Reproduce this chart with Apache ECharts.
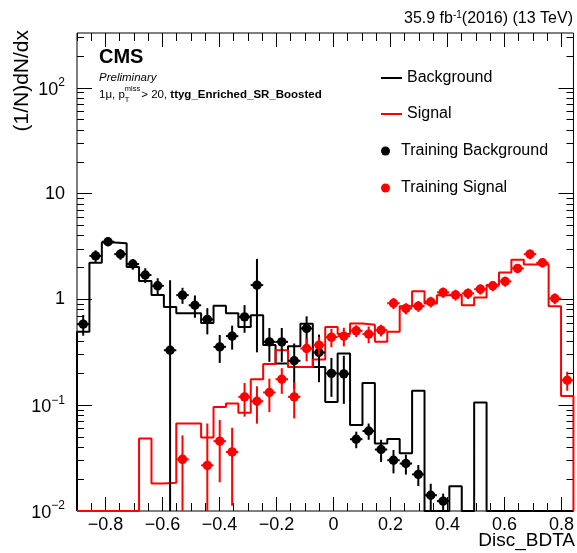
<!DOCTYPE html>
<html>
<head>
<meta charset="utf-8" />
<title>Disc_BDTA</title>
<script src="https://cdn.jsdelivr.net/npm/echarts@6/dist/echarts.min.js"></script>
<style>
  html, body { margin: 0; padding: 0; background: #fff; }
  #main { width: 577px; height: 553px; }
</style>
</head>
<body>
<div id="main"></div>
<script>
// histogram range
const xMin = -0.9, xMax = 0.842, nBins = 40;
const yMin = 0.01, yMax = 330;

// normalised histograms, one value per bin (0 = empty)
const bkgHist = [0.494, 2.22, 3.46, 3.40, 2.03, 1.49, 1.10, 0.85, 0.74, 0.74,
                 0.60, 0.87, 0.74, 0.55, 0.71, 0.37, 0.248, 0.36, 0.59, 0.23,
                 0.107, 0.308, 0.065, 0.162, 0.0434, 0.048, 0.0352, 0.137, 0, 0,
                 0.0171, 0, 0.106, 0, 0, 0, 0, 0, 0, 0];
const sigHist = [0, 0, 0, 0, 0, 0.0484, 0.0182, 0.0185, 0.067, 0.067,
                 0.0495, 0.096, 0.104, 0.085, 0.176, 0.245, 0.331, 0.23, 0.23, 0.27,
                 0.55, 0.47, 0.593, 0.575, 0.397, 0.494, 0.864, 1.198, 0.917, 1.098,
                 1.098, 0.88, 1.04, 1.366, 1.80, 2.37, 2.14, 2.14, 0.864, 0.1225];

// training samples: value and error per bin (null = no point)
const bkgTrain = [0.584, 2.58, 3.51, 2.68, 2.16, 1.70, 1.345, 0.331, 1.098, 0.88,
                  0.647, 0.356, 0.45, 0.684, 1.366, 0.397, 0.397, 0.263, 0.532, 0.315,
                  0.2, 0.198, 0.0477, 0.0571, 0.0381, 0.0302, 0.0281, 0.0222, 0.0141, 0.0124,
                  null, null, null, null, null, null, null, null, null, null];
const bkgTrainErr = [0.13, 0.33, 0.32, 0.31, 0.25, 0.27, 0.24, 1.19, 0.19, 0.21,
                     0.18, 0.105, 0.115, 0.2, 1.05, 0.14, 0.14, 0.12, 0.16, 0.15,
                     0.08, 0.095, 0.0085, 0.01, 0.009, 0.0075, 0.006, 0.005, 0.004, 0.0022,
                     null, null, null, null, null, null, null, null, null, null];
const sigTrain = [null, null, null, null, null, null, null, null, 0.0308, null,
                  0.027, 0.0457, 0.0362, 0.12, 0.109, 0.132, 0.176, 0.12, 0.344, 0.37,
                  0.44, 0.45, 0.505, 0.47, 0.512, 0.92, 0.822, 0.864, 0.949, 1.165,
                  1.105, 1.14, 1.25, 1.345, 1.48, 1.965, 2.68, 2.22, 1.02, 0.172];
const sigTrainErr = [null, null, null, null, null, null, null, null, 0.021, null,
                     0.04, 0.027, 0.025, 0.042, 0.042, 0.046, 0.048, 0.045, 0.084, 0.07,
                     0.087, 0.09, 0.065, 0.085, 0.065, 0.11, 0.1, 0.1, 0.11, 0.13,
                     0.13, 0.13, 0.14, 0.15, 0.16, 0.2, 0.28, 0.22, 0.12, 0.035];

const xLabels = [-0.8, -0.6, -0.4, -0.2, 0, 0.2, 0.4, 0.6, 0.8];
const yLabels = [0.01, 0.1, 1, 10, 100];

const FONT = '"Liberation Sans", Arial, Helvetica, sans-serif';
const binW = (xMax - xMin) / nBins;
const binEdges = [];
for (let i = 0; i <= nBins; i++) binEdges.push(xMin + i * binW);

// minor tick positions
const xMinor = [];
for (let k = -18; k <= 16; k++) xMinor.push(+(k * 0.05).toFixed(2));
const yMinor = [];
for (let e = -2; e <= 2; e++) {
  for (let m = 2; m <= 9; m++) {
    const v = +(m * Math.pow(10, e)).toPrecision(3);
    if (v < yMax) yMinor.push(v);
  }
}

function stepData(vals) {
  const pts = [[binEdges[0], yMin]];
  vals.forEach(function (v, i) {
    const y = v > yMin ? v : yMin;
    pts.push([binEdges[i], y], [binEdges[i + 1], y]);
  });
  pts.push([binEdges[nBins], yMin]);
  return pts;
}

function pointData(vals, errs) {
  const out = [];
  vals.forEach(function (v, i) {
    if (v == null) return;
    out.push([(binEdges[i] + binEdges[i + 1]) / 2, v, errs[i]]);
  });
  return out;
}

function errorBars(color) {
  return function (params, api) {
    const x = api.value(0), y = api.value(1), e = api.value(2);
    const p = api.coord([x, y]);
    const pl = api.coord([x - binW / 2, y]);
    const pr = api.coord([x + binW / 2, y]);
    const pt = api.coord([x, y + e]);
    const pb = api.coord([x, y - e > 0 ? y - e : yMin / 100]);
    const st = { stroke: color, lineWidth: 2 };
    return {
      type: 'group',
      children: [
        { type: 'line', shape: { x1: pl[0], y1: p[1], x2: pr[0], y2: p[1] }, style: st },
        { type: 'line', shape: { x1: p[0], y1: pt[1], x2: p[0], y2: pb[1] }, style: st },
        { type: 'circle', shape: { cx: p[0], cy: p[1], r: 4.7 }, style: { fill: color } }
      ]
    };
  };
}

function fmtX(v) {
  return (v < 0 ? '\u2212' : '') + Math.abs(v);
}
function fmtY(v) {
  const e = Math.round(Math.log10(v));
  if (e === 0) return '1';
  if (e === 1) return '10';
  return '{b|10}{s|' + (e < 0 ? '\u2212' : '') + Math.abs(e) + '}';
}

function xAxisOf(pos, ticks, len, labels) {
  return {
    type: 'value', position: pos, min: xMin, max: xMax,
    axisLine: { show: false, onZero: false }, splitLine: { show: false },
    axisTick: { show: true, inside: true, length: len, customValues: ticks,
                lineStyle: { color: '#000', width: 1 } },
    axisLabel: labels ? { show: true, customValues: ticks, formatter: fmtX, color: '#000',
                          fontSize: 18, fontFamily: FONT, margin: 5 } : { show: false }
  };
}
function yAxisOf(pos, ticks, len, labels) {
  return {
    type: 'log', logBase: 10, position: pos, min: yMin, max: yMax,
    axisLine: { show: false, onZero: false }, splitLine: { show: false }, minorTick: { show: false },
    axisTick: { show: true, inside: true, length: len, customValues: ticks,
                lineStyle: { color: '#000', width: 1 } },
    axisLabel: labels ? {
      show: true, customValues: ticks, formatter: fmtY, color: '#000',
      fontSize: 18, fontFamily: FONT, margin: 12,
      rich: {
        b: { fontSize: 18, fontFamily: FONT, color: '#000', lineHeight: 22, verticalAlign: 'bottom' },
        s: { fontSize: 12, fontFamily: FONT, color: '#000', lineHeight: 12, verticalAlign: 'top' }
      }
    } : { show: false }
  };
}

// subtitle pieces placed by measured widths
const ctx = document.createElement('canvas').getContext('2d');
function textW(str, font) { ctx.font = font; return ctx.measureText(str).width; }
const subFont = '11.5px ' + FONT;
const supFont = '7.5px ' + FONT;
const subX = 99, subY = 95;
const x1 = subX + textW('1\u03bc, p', subFont);
const x2 = x1 + Math.max(textW('miss', supFont), textW('T', supFont)) + 1;
const x3 = x2 + textW('> 20, ', subFont);

const chart = echarts.init(document.getElementById('main'), null, { renderer: 'canvas' });

const legendBase = {
  orient: 'vertical', left: 381, padding: 0, itemWidth: 21, selectedMode: false,
  textStyle: { color: '#000', fontSize: 16, fontFamily: FONT }
};

chart.setOption({
  animation: false,
  backgroundColor: '#fff',
  textStyle: { fontFamily: FONT },
  grid: { left: 77, right: 1, top: 33, bottom: 42, show: true, borderColor: '#000', borderWidth: 1 },
  xAxis: [
    xAxisOf('bottom', xLabels, 14, true),
    xAxisOf('bottom', xMinor, 8, false),
    xAxisOf('top', xLabels, 14, false),
    xAxisOf('top', xMinor, 8, false)
  ],
  yAxis: [
    yAxisOf('left', yLabels, 15, true),
    yAxisOf('left', yMinor, 7, false),
    yAxisOf('right', yLabels, 15, false),
    yAxisOf('right', yMinor, 7, false)
  ],
  legend: [
    Object.assign({}, legendBase, { top: 70, itemHeight: 2, icon: 'rect', data: ['Background'] }),
    Object.assign({}, legendBase, { top: 106, itemHeight: 2, icon: 'rect', data: ['Signal'] }),
    Object.assign({}, legendBase, { top: 143, itemHeight: 9, icon: 'circle', data: ['Training Background'] }),
    Object.assign({}, legendBase, { top: 180, itemHeight: 9, icon: 'circle', data: ['Training Signal'] })
  ],
  graphic: [
    { type: 'text', x: 573, y: 19, style: {
        text: '35.9 fb{s|-1}(2016) (13 TeV)', align: 'right', verticalAlign: 'middle',
        font: '16px ' + FONT, fill: '#000', lineHeight: 18,
        rich: { s: { fontSize: 10, fontFamily: FONT, lineHeight: 10, verticalAlign: 'top', fill: '#000' } } } },
    { type: 'text', x: 99, y: 57.5, style: {
        text: 'CMS', font: 'bold 20px ' + FONT, fill: '#000', verticalAlign: 'middle' } },
    { type: 'text', x: 99, y: 78, style: {
        text: 'Preliminary', font: 'italic 11.5px ' + FONT, fill: '#000', verticalAlign: 'middle' } },
    { type: 'text', x: subX, y: subY, style: {
        text: '1\u03bc, p', font: subFont, fill: '#000', verticalAlign: 'middle' } },
    { type: 'text', x: x1, y: subY - 6, style: {
        text: 'miss', font: supFont, fill: '#000', verticalAlign: 'middle' } },
    { type: 'text', x: x1, y: subY + 5, style: {
        text: 'T', font: supFont, fill: '#000', verticalAlign: 'middle' } },
    { type: 'text', x: x2, y: subY, style: {
        text: '> 20, ', font: subFont, fill: '#000', verticalAlign: 'middle' } },
    { type: 'text', x: x3, y: subY, style: {
        text: 'ttyg_Enriched_SR_Boosted', font: 'bold ' + subFont, fill: '#000', verticalAlign: 'middle' } },
    { type: 'text', x: 575, y: 541, style: {
        text: 'Disc_BDTA', font: '19px ' + FONT, fill: '#000', align: 'right', verticalAlign: 'middle' } },
    { type: 'text', x: 22, y: 30, rotation: Math.PI / 2, style: {
        text: '(1/N)dN/dx', font: '21px ' + FONT, fill: '#000', align: 'right', verticalAlign: 'middle' } }
  ],
  series: [
    { name: 'Background', type: 'line', data: stepData(bkgHist), symbol: 'none', z: 3,
      lineStyle: { color: '#000', width: 2 }, itemStyle: { color: '#000' } },
    { name: 'Signal', type: 'line', data: stepData(sigHist), symbol: 'none', z: 4,
      lineStyle: { color: '#ff0000', width: 2 }, itemStyle: { color: '#ff0000' } },
    { name: 'Training Background', type: 'custom', renderItem: errorBars('#000'), clip: true, z: 5,
      data: pointData(bkgTrain, bkgTrainErr), itemStyle: { color: '#000' } },
    { name: 'Training Signal', type: 'custom', renderItem: errorBars('#ff0000'), clip: true, z: 6,
      data: pointData(sigTrain, sigTrainErr), itemStyle: { color: '#ff0000' } }
  ]
});
</script>
</body>
</html>
